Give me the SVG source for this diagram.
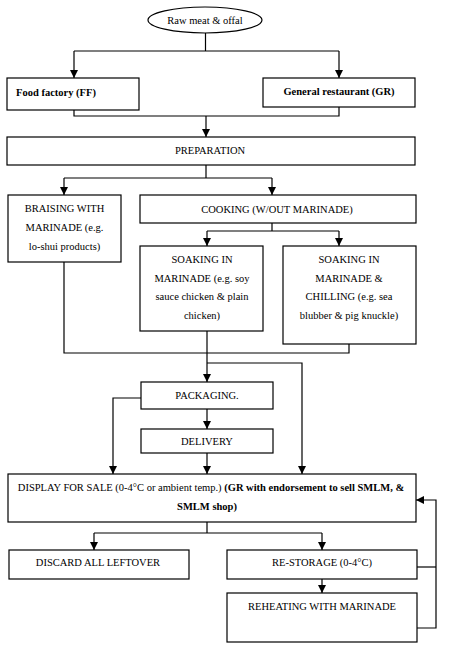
<svg xmlns="http://www.w3.org/2000/svg" width="450" height="647" viewBox="0 0 450 647">
<defs>
<marker id="ah" markerWidth="8" markerHeight="8" refX="8" refY="4" orient="auto" markerUnits="userSpaceOnUse">
<path d="M0,0 L8,4 L0,8 Z" fill="#000"/>
</marker>
<style>
.box{fill:#fff;stroke:#000;stroke-width:1.2}
.t{font-family:"Liberation Serif","Times New Roman",serif;font-size:10.5px;fill:#000;text-anchor:middle}
.b{font-weight:bold}
.c{fill:none;stroke:#000;stroke-width:1.2}
.a{fill:none;stroke:#000;stroke-width:1.2;marker-end:url(#ah)}
</style>
</defs>
<rect width="450" height="647" fill="#fff"/>
<g id="connectors">
<path class="c" d="M205.5,33 V51 M74,51 H339"/>
<path class="a" d="M74,51 V78"/>
<path class="a" d="M339,51 V78"/>
<path class="c" d="M74,110 V116 H339 V107"/>
<path class="a" d="M206,116 V137"/>
<path class="c" d="M206,165 V178 M64,178 H272"/>
<path class="a" d="M64,178 V195"/>
<path class="a" d="M272,178 V195"/>
<path class="c" d="M272,223 V231 M207,231 H339"/>
<path class="a" d="M207,231 V246"/>
<path class="a" d="M339,231 V246"/>
<path class="c" d="M64,262 V353 H349 V344"/>
<path class="a" d="M207,331 V382"/>
<path class="a" d="M207,363 H302 V474"/>
<path class="a" d="M141,398 H113 V474"/>
<path class="a" d="M207,409 V429"/>
<path class="a" d="M207,453 V474"/>
<path class="c" d="M207,522 V533 M94,533 H322"/>
<path class="a" d="M94,533 V550"/>
<path class="a" d="M322,533 V550"/>
<path class="a" d="M322,579 V593"/>
<path class="c" d="M417,567 H436"/>
<path class="a" d="M417,628 H436 V500 H416"/>
</g>
<g id="raw">
<ellipse cx="205" cy="20" rx="57" ry="13" fill="#fff" stroke="#000" stroke-width="1.2"/>
<text class="t" x="205" y="24">Raw meat &amp; offal</text>
</g>
<g id="ff">
<rect class="box" x="7" y="78" width="132" height="32"/>
<text class="t b" x="16" y="96" style="text-anchor:start">Food factory (FF)</text>
</g>
<g id="gr">
<rect class="box" x="263" y="78" width="152" height="29"/>
<text class="t b" x="339" y="95">General restaurant (GR)</text>
</g>
<g id="prep">
<rect class="box" x="7" y="137" width="408" height="28"/>
<text class="t" x="210" y="154">PREPARATION</text>
</g>
<g id="braising">
<rect class="box" x="8" y="195" width="113" height="67"/>
<text class="t" x="64.5" y="212">BRAISING WITH</text>
<text class="t" x="64.5" y="231">MARINADE (e.g.</text>
<text class="t" x="64.5" y="250">lo-shui products)</text>
</g>
<g id="cooking">
<rect class="box" x="140" y="195" width="276" height="28"/>
<text class="t" x="277" y="213">COOKING (W/OUT MARINADE)</text>
</g>
<g id="soak1">
<rect class="box" x="140" y="246" width="123" height="85"/>
<text class="t" x="202" y="263">SOAKING IN</text>
<text class="t" x="202" y="282">MARINADE (e.g. soy</text>
<text class="t" x="202" y="300">sauce chicken &amp; plain</text>
<text class="t" x="202" y="319">chicken)</text>
</g>
<g id="soak2">
<rect class="box" x="283" y="246" width="133" height="98"/>
<text class="t" x="349" y="263">SOAKING IN</text>
<text class="t" x="349" y="282">MARINADE &amp;</text>
<text class="t" x="349" y="300">CHILLING (e.g. sea</text>
<text class="t" x="349" y="319">blubber &amp; pig knuckle)</text>
</g>
<g id="packaging">
<rect class="box" x="141" y="382" width="132" height="27"/>
<text class="t" x="207" y="399">PACKAGING.</text>
</g>
<g id="delivery">
<rect class="box" x="141" y="429" width="132" height="24"/>
<text class="t" x="207" y="445">DELIVERY</text>
</g>
<g id="display">
<rect class="box" x="8" y="474" width="408" height="48"/>
<text class="t" x="211" y="491">DISPLAY FOR SALE (0-4°C or ambient temp.) <tspan class="b">(GR with endorsement to sell SMLM, &amp;</tspan></text>
<text class="t b" x="207" y="510">SMLM shop)</text>
</g>
<g id="discard">
<rect class="box" x="9" y="550" width="180" height="29"/>
<text class="t" x="98" y="566">DISCARD ALL LEFTOVER</text>
</g>
<g id="restorage">
<rect class="box" x="227" y="550" width="190" height="29"/>
<text class="t" x="322" y="566">RE-STORAGE (0-4°C)</text>
</g>
<g id="reheating">
<rect class="box" x="227" y="593" width="190" height="49"/>
<text class="t" x="322" y="610">REHEATING WITH MARINADE</text>
</g>
</svg>
